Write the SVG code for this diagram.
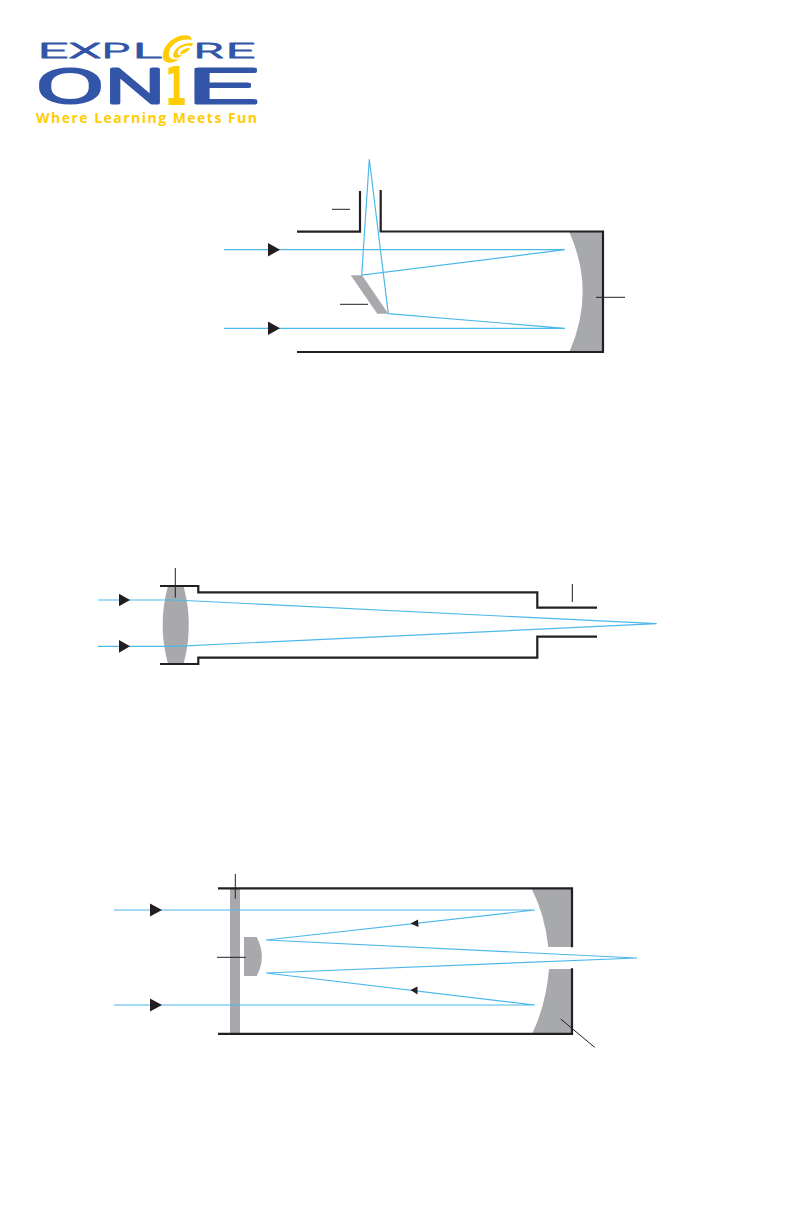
<svg xmlns="http://www.w3.org/2000/svg" width="793" height="1225" viewBox="0 0 793 1225">
<style>
.tube{fill:none;stroke:#231f20;stroke-width:2.2;stroke-linecap:butt;stroke-linejoin:miter}
.ray{fill:none;stroke:#4db8ea;stroke-width:1.2;stroke-linejoin:miter}
.lead{fill:none;stroke:#231f20;stroke-width:1}
.glass{fill:#a7a9ac;stroke:none}
.head{fill:#231f20;stroke:none}
.big{fill:#3355a8;stroke:#3355a8;stroke-width:3;stroke-linejoin:round;font-family:Roboto,sans-serif;font-weight:300;font-size:49px}
.sm{fill:#3355a8;stroke:#3355a8;stroke-width:1;stroke-linejoin:round;font-family:Roboto,sans-serif;font-weight:300;font-size:20px}
.sw{fill:#ffcc05;stroke:none}
</style>
<rect width="793" height="1225" fill="#fff"/>
<g id="logo">
<text class="sm" x="38" y="58" textLength="30" lengthAdjust="spacingAndGlyphs">E</text>
<text class="sm" x="69" y="58" textLength="32" lengthAdjust="spacingAndGlyphs">X</text>
<text class="sm" x="102" y="58" textLength="28" lengthAdjust="spacingAndGlyphs">P</text>
<text class="sm" x="133" y="58" textLength="29" lengthAdjust="spacingAndGlyphs">L</text>
<path class="sw" d="M190 36C176 32 161 46 163 58C164 64 172 64 180 59C172 61 168 58 169 52C171 44 180 38 192 40Z"/>
<path class="sw" d="M193 43C183 42 174 48 173 55C173 59 178 59 183 55C178 56 177 54 178 51C180 47 186 45 192 46Z"/>
<path class="sw" d="M190 48C185 48 181 50 180 54C184 54 188 52 190 48Z"/>
<text class="sm" x="194" y="58" textLength="30" lengthAdjust="spacingAndGlyphs">R</text>
<text class="sm" x="226" y="58" textLength="29" lengthAdjust="spacingAndGlyphs">E</text>
<text class="big" x="36" y="103" textLength="68" lengthAdjust="spacingAndGlyphs">O</text>
<text class="big" x="105" y="103" textLength="60" lengthAdjust="spacingAndGlyphs">N</text>
<text x="165" y="104.5" font-size="53" fill="#ffcc05" font-family="'DejaVu Sans',sans-serif" font-weight="700" textLength="22" lengthAdjust="spacingAndGlyphs">1</text>
<text class="big" x="187" y="103" textLength="71" lengthAdjust="spacingAndGlyphs">E</text>
<text x="36" y="123" font-size="14" fill="#ffcc05" font-family="'Open Sans',sans-serif" font-weight="700" textLength="221" lengthAdjust="spacing">Where Learning Meets Fun</text>
</g>
<g id="newtonian">
<path class="glass" d="M569.3 232Q596 292 569.3 352H603V232Z"/>
<path class="glass" d="M350.7 275.3H362L388.3 313.7H377.3Z"/>
<path class="tube" d="M297 231.7H360V191M380.7 190V231.5H603V352H297"/>
</g>
<g id="refractor">
<path class="glass" d="M168 586C163.5 603 162.7 615 162.7 625C162.7 635 163.5 647 168 664H183.5C188 647 188.7 635 188.7 625C188.7 615 188 603 183.5 586Z"/>
<path class="tube" d="M160 586H198.3V592.3H537.3V607.7H597M160 664H198.3V657.7H537.3V636.7H597"/>
</g>
<g id="catadioptric">
<rect class="glass" x="230" y="888" width="10" height="146"/>
<path class="glass" d="M244 937H256.7Q267 957 256.7 976H244Z"/>
<path class="glass" d="M531.3 888Q545 915 548.3 947H572V888ZM532 1034Q546 1005 549 969H572V1034Z"/>
<path class="tube" d="M218 888.3H572V947.3M572 968.3V1033.8H218"/>
</g>
<g id="connectors">
<path class="ray" d="M224 249.7H565L361.7 275L369.3 159.3L388.3 313.7L565 328.3H224"/>
<path class="ray" d="M98 600H175L656.7 623.7L175 646.3H98"/>
<path class="ray" d="M114 910H535L266 940L637 958L266 973L535 1005H114"/>
<path class="lead" d="M332 209.3H350M340 304.3H368M596 297.3H625"/>
<path class="lead" d="M175.3 568V597.7M572.3 584V602"/>
<path class="lead" d="M235.3 874V898.7M217 957.3H245.7M560.7 1019L594.7 1047.3"/>
<path class="head" d="M268 243L280 249.7L268 256.4ZM268 321.6L280 328.3L268 335Z"/>
<path class="head" d="M119 593.7L130 600L119 606.3ZM119 640L130 646.3L119 652.7Z"/>
<path class="head" d="M150 903.5L162 910L150 916.5ZM150 998.5L162 1005L150 1011.5ZM418 919.5L410.5 923.5L418.5 927ZM417.5 986.5L410.5 990L417.5 994.5Z"/>
</g>
</svg>
